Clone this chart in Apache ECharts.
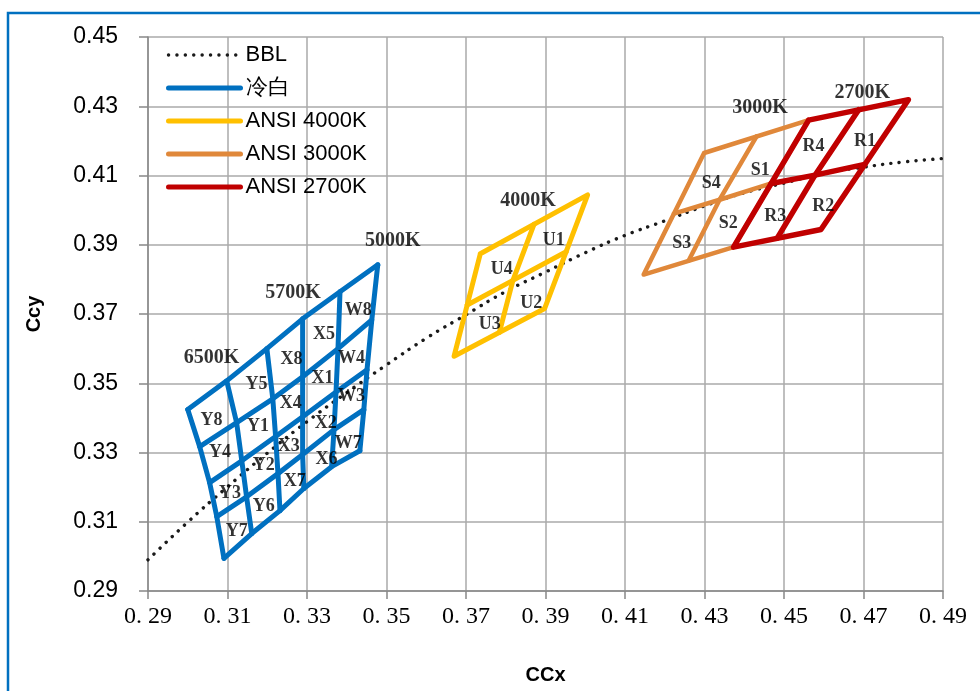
<!DOCTYPE html>
<html><head><meta charset="utf-8">
<script src="https://cdn.jsdelivr.net/npm/echarts/dist/echarts.min.js"></script>
<style>html,body{margin:0;padding:0;background:#fff}#c{width:980px;height:691px}</style>
</head><body><div id="c"></div><script>
// ---- BBL (black body locus) points ----
const bblX = [0.290,0.300,0.310,0.320,0.330,0.340,0.350,0.360,0.370,0.380,0.390,0.400,0.410,0.420,0.430,0.440,0.450,0.460,0.470,0.480,0.490];
const bblY = [0.2990,0.3099,0.3201,0.3298,0.3389,0.3473,0.3553,0.3630,0.3698,0.3765,0.3821,0.3877,0.3927,0.3969,0.4012,0.4050,0.4078,0.4106,0.4124,0.4139,0.4149];

// ---- 冷白 grid vertices (rows top->bottom, columns left->right) ----
const coolRow0 = [[0.3000,0.3424],[0.3098,0.3507],[0.3199,0.3600],[0.3289,0.3686],[0.3383,0.3764],[0.3478,0.3842]];
const coolRow1 = [[0.3030,0.3317],[0.3123,0.3386],[0.3214,0.3455],[0.3289,0.3519],[0.3378,0.3600],[0.3463,0.3683]];
const coolRow2 = [[0.3055,0.3213],[0.3136,0.3276],[0.3221,0.3346],[0.3289,0.3403],[0.3373,0.3475],[0.3451,0.3539]];
const coolRow3 = [[0.3073,0.3115],[0.3148,0.3172],[0.3227,0.3239],[0.3289,0.3294],[0.3368,0.3366],[0.3443,0.3424]];
const coolRow4 = [[0.3091,0.2994],[0.3161,0.3066],[0.3232,0.3132],[0.3292,0.3196],[0.3362,0.3259],[0.3433,0.3305]];

// ---- ANSI quadrangles: outline + two cross lines through centre ----
const q4000Outline = [[0.3736,0.3874],[0.4006,0.4044],[0.3898,0.3716],[0.3670,0.3578],[0.3736,0.3874]];
const q4000CrossA  = [[0.3871,0.3959],[0.3818,0.3797],[0.3784,0.3647]];
const q4000CrossB  = [[0.3703,0.3726],[0.3818,0.3797],[0.3952,0.3880]];
const q3000Outline = [[0.4299,0.4165],[0.4562,0.4260],[0.4373,0.3893],[0.4147,0.3814],[0.4299,0.4165]];
const q3000CrossA  = [[0.4431,0.4213],[0.4338,0.4030],[0.4260,0.3854]];
const q3000CrossB  = [[0.4223,0.3990],[0.4338,0.4030],[0.4468,0.4077]];
const q2700Outline = [[0.4562,0.4260],[0.4813,0.4319],[0.4593,0.3944],[0.4373,0.3893],[0.4562,0.4260]];
const q2700CrossA  = [[0.4688,0.4290],[0.4578,0.4101],[0.4483,0.3919]];
const q2700CrossB  = [[0.4468,0.4077],[0.4578,0.4101],[0.4703,0.4132]];

// ---- text labels ----
const binNames = ['Y8','Y4','Y3','Y7','Y5','Y1','Y2','Y6','X8','X4','X3','X7','X5','X1','X2','X6','W8','W4','W3','W7','U1','U4','U2','U3','S4','S1','S3','S2','R4','R1','R3','R2'];
const binX = [0.3060,0.3081,0.3106,0.3123,0.3173,0.3177,0.3191,0.3191,0.3261,0.3259,0.3254,0.3269,0.3343,0.3339,0.3347,0.3349,0.3429,0.3412,0.3412,0.3404,0.3921,0.3790,0.3864,0.3760,0.4317,0.4440,0.4243,0.4360,0.4574,0.4704,0.4478,0.4599];
const binY = [0.3393,0.3300,0.3183,0.3072,0.3496,0.3375,0.3262,0.3144,0.3568,0.3441,0.3318,0.3217,0.3640,0.3513,0.3385,0.3279,0.3712,0.3573,0.3462,0.3327,0.3914,0.3828,0.3732,0.3669,0.4078,0.4116,0.3905,0.3962,0.4183,0.4198,0.3981,0.4010];
const cctNames = ['6500K','5700K','5000K','4000K','3000K','2700K'];
const cctX = [0.3060,0.3265,0.3516,0.3856,0.4440,0.4697];
const cctY = [0.3573,0.3762,0.3911,0.4027,0.4295,0.4338];

const seriesNames = ['BBL','冷白','ANSI 4000K','ANSI 3000K','ANSI 2700K'];
const colors = {'冷白':'#0070C0','ANSI 4000K':'#FFC000','ANSI 3000K':'#E0883A','ANSI 2700K':'#C00000'};
const widths = {'冷白':5,'ANSI 4000K':5,'ANSI 3000K':4.5,'ANSI 2700K':5.5};

function lineS(name, pts, z){
  return {name:name, type:'line', data:pts, symbol:'none', silent:true, z:z,
    lineStyle:{color:colors[name], width:widths[name], cap:'round', join:'round'},
    itemStyle:{color:colors[name]}};
}
const series = [];
series.push({name:'BBL', type:'line', data:bblX.map((x,i)=>[x,bblY[i]]), smooth:true, symbol:'none', silent:true, z:1,
  lineStyle:{color:'#1a1a1a', width:3.4, type:[0.1,8.3], cap:'round'}, itemStyle:{color:'#1a1a1a'}});
const coolRows = [coolRow0,coolRow1,coolRow2,coolRow3,coolRow4];
coolRows.forEach(r=>series.push(lineS('冷白', r, 2)));
for(let j=0;j<coolRow0.length;j++) series.push(lineS('冷白', coolRows.map(r=>r[j]), 2));
[q4000Outline,q4000CrossA,q4000CrossB].forEach(p=>series.push(lineS('ANSI 4000K',p,3)));
[q3000Outline,q3000CrossA,q3000CrossB].forEach(p=>series.push(lineS('ANSI 3000K',p,4)));
[q2700Outline,q2700CrossA,q2700CrossB].forEach(p=>series.push(lineS('ANSI 2700K',p,5)));
series.push({type:'scatter', silent:true, z:10, symbolSize:0,
  data:binNames.map((n,i)=>({name:n, value:[binX[i],binY[i]]})),
  label:{show:true, position:'inside', formatter:'{b}', color:'#000', fontFamily:'Liberation Serif', fontWeight:'bold', fontSize:18}});
series.push({type:'scatter', silent:true, z:10, symbolSize:0,
  data:cctNames.map((n,i)=>({name:n, value:[cctX[i],cctY[i]]})),
  label:{show:true, position:'inside', formatter:'{b}', color:'#000', fontFamily:'Liberation Serif', fontWeight:'bold', fontSize:20}});

const hidden = {color:'rgba(0,0,0,0)', borderColor:'rgba(0,0,0,0)', borderWidth:0, opacity:0};
const chart = echarts.init(document.getElementById('c'), null, {renderer:'canvas'});
chart.setOption({
  animation:false,
  backgroundColor:'#fff',
  graphic:[{type:'rect', shape:{x:8, y:13, width:1000, height:720}, style:{fill:'none', stroke:'#0070C0', lineWidth:2.5}, z:-10}],
  grid:{left:148, right:37, top:37, bottom:100},
  legend:{
    orient:'vertical', left:166, top:42, padding:0, itemGap:7, itemWidth:72, itemHeight:14,
    textStyle:{fontFamily:'Liberation Sans', fontSize:22, lineHeight:26, color:'#000'},
    data:seriesNames.map(n=> n==='BBL'
      ? {name:n, itemStyle:hidden, lineStyle:{width:3.4, type:[0.1,8.3], cap:'round', color:'#1a1a1a'}}
      : {name:n, itemStyle:hidden, lineStyle:{width:5, cap:'round', color:colors[n]}})
  },
  xAxis:{type:'value', min:0.29, max:0.49, interval:0.02,
    name:'CCx', nameLocation:'middle', nameGap:74,
    nameTextStyle:{fontFamily:'Liberation Sans', fontWeight:'bold', fontSize:20, color:'#000'},
    axisLine:{show:true, onZero:false, lineStyle:{color:'#888', width:1.5}},
    axisTick:{show:true, length:8, lineStyle:{color:'#888', width:1.5}},
    axisLabel:{margin:14, fontFamily:'Liberation Serif', fontSize:24, color:'#000',
      formatter:v=>v.toFixed(2).replace('.', '. ')},
    splitLine:{show:true, lineStyle:{color:'#AAAAAA', width:1.5}}},
  yAxis:{type:'value', min:0.29, max:0.45, interval:0.02,
    name:'Ccy', nameLocation:'middle', nameGap:104, nameRotate:90,
    nameTextStyle:{fontFamily:'Liberation Sans', fontWeight:'bold', fontSize:20, color:'#000'},
    axisLine:{show:true, lineStyle:{color:'#888', width:1.5}},
    axisTick:{show:true, length:9, lineStyle:{color:'#888', width:1.5}},
    axisLabel:{margin:30, fontFamily:'Liberation Sans', fontSize:23, color:'#000', formatter:v=>v.toFixed(2)},
    splitLine:{show:true, lineStyle:{color:'#AAAAAA', width:1.5}}},
  series:series
});
</script></body></html>
